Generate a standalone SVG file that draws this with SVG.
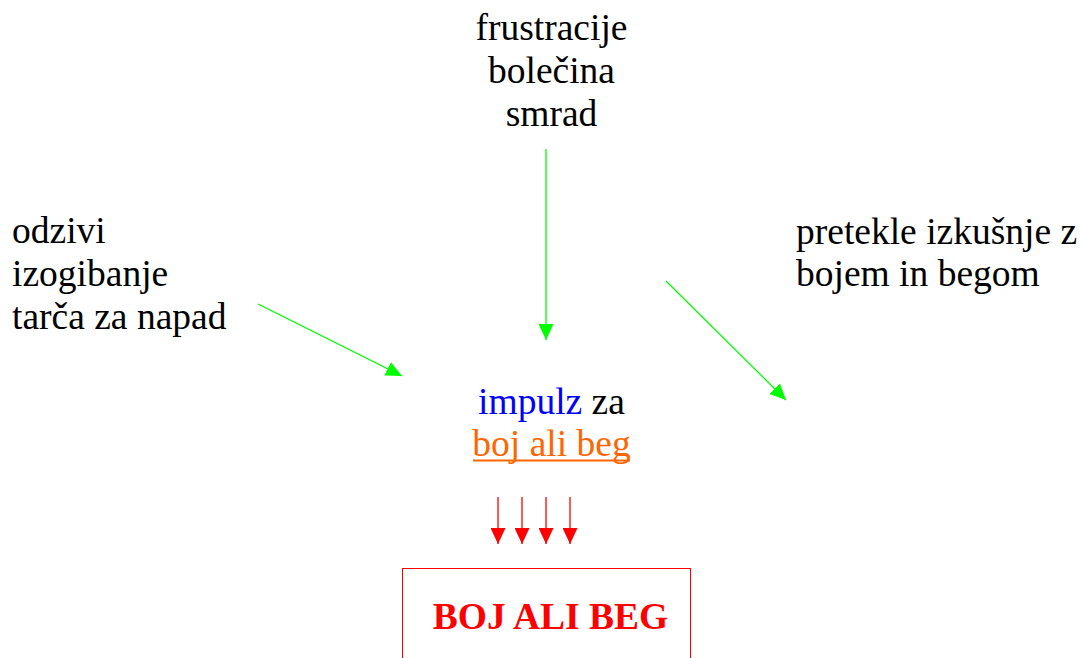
<svg xmlns="http://www.w3.org/2000/svg" width="1082" height="658" viewBox="0 0 1082 658">
<style>
text{font-family:"Liberation Serif","Times New Roman",serif;font-size:37.5px;fill:#000}
.c{text-anchor:middle}
.g{stroke:#00ff00;stroke-width:1.3;fill:none}
.r{stroke:#ff0000;stroke-width:1.3;fill:none}
</style>
<defs>
<marker id="ag" viewBox="0 0 16 15" refX="16" refY="7.5" markerWidth="16" markerHeight="15" markerUnits="userSpaceOnUse" orient="auto"><path d="M0,0 L16,7.5 L0,15 Z" fill="#00ff00"/></marker>
<marker id="ar" viewBox="0 0 16 15" refX="16" refY="7.5" markerWidth="16" markerHeight="15" markerUnits="userSpaceOnUse" orient="auto"><path d="M0,0 L16,7.5 L0,15 Z" fill="#ff0000"/></marker>
</defs>
<rect width="1082" height="658" fill="#fff"/>
<g id="top">
<text class="c" x="551.5" y="40">frustracije</text>
<text class="c" x="551.5" y="83">bolečina</text>
<text class="c" x="551.5" y="126">smrad</text>
</g>
<g id="left">
<text x="12" y="243">odzivi</text>
<text x="12" y="286">izogibanje</text>
<text x="12" y="329">tarča za napad</text>
</g>
<g id="right">
<text x="796" y="244">pretekle izkušnje z</text>
<text x="796" y="286">bojem in begom</text>
</g>
<g id="impulse">
<text class="c" x="551.5" y="414"><tspan fill="#0000ff">impulz</tspan> za</text>
<text class="c" x="551.5" y="456" style="fill:#ff6600">boj ali beg</text>
<line x1="473" y1="460.5" x2="630" y2="460.5" stroke="#ff6600" stroke-width="2"/>
</g>
<g id="result">
<rect x="402.5" y="568.5" width="288" height="100" fill="none" stroke="#ff0000" stroke-width="1"/>
<text class="c" x="550.5" y="629" style="fill:#ff0000;font-weight:bold">BOJ ALI BEG</text>
</g>
<g id="connectors">
<line class="g" x1="546" y1="149" x2="546" y2="340" marker-end="url(#ag)"/>
<line class="g" x1="258" y1="304" x2="402" y2="376" marker-end="url(#ag)"/>
<line class="g" x1="666" y1="281" x2="786" y2="400" marker-end="url(#ag)"/>
<line class="r" x1="498" y1="497" x2="498" y2="544" marker-end="url(#ar)"/>
<line class="r" x1="522" y1="497" x2="522" y2="544" marker-end="url(#ar)"/>
<line class="r" x1="546" y1="497" x2="546" y2="544" marker-end="url(#ar)"/>
<line class="r" x1="570" y1="497" x2="570" y2="544" marker-end="url(#ar)"/>
</g>
</svg>
